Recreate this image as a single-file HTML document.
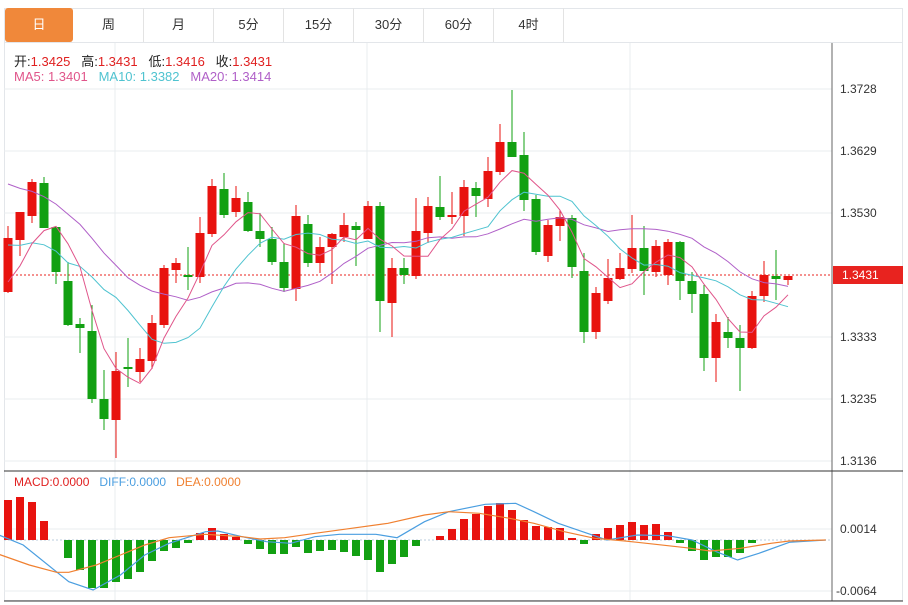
<!DOCTYPE html><html><head><meta charset="utf-8"><style>
body{margin:0;background:#fff;width:908px;height:605px;overflow:hidden;font-family:"Liberation Sans","Noto Sans CJK SC",sans-serif}
.tabs{position:absolute;left:4px;top:8px;height:34px;}
.tab{position:absolute;top:0;height:34px;width:70px;line-height:34px;text-align:center;font-size:13px;color:#333;border-right:1px solid #e3e3e3;box-sizing:border-box}
.leg{position:absolute;font-size:13px;white-space:pre}
</style></head><body>
<div style="position:absolute;left:4px;top:8px;width:899px;height:593px;border:1px solid #e3e6ea;box-sizing:border-box"></div>
<div class="tabs">
<div class="tab" style="left:1px;width:68px;background:#f0883a;color:#fff;border-radius:3px;border:none">日</div>
<div class="tab" style="left:70px">周</div><div class="tab" style="left:140px">月</div><div class="tab" style="left:210px">5分</div><div class="tab" style="left:280px">15分</div><div class="tab" style="left:350px">30分</div><div class="tab" style="left:420px">60分</div><div class="tab" style="left:490px">4时</div>
</div>
<div style="position:absolute;left:4px;top:42px;width:899px;border-top:1px solid #e3e6ea"></div>
<svg id="s" width="908" height="605" style="position:absolute;left:0;top:0"></svg>
<div class="leg" style="left:14px;top:51px;color:#222">开:<span style="color:#e02020">1.3425</span>   高:<span style="color:#e02020">1.3431</span>   低:<span style="color:#e02020">1.3416</span>   收:<span style="color:#e02020">1.3431</span></div>
<div class="leg" style="left:14px;top:69px"><span style="color:#e0558a">MA5: 1.3401</span>   <span style="color:#4fc3d0">MA10: 1.3382</span>   <span style="color:#b060c8">MA20: 1.3414</span></div>
<div class="leg" style="left:14px;top:475px;font-size:12px"><span style="color:#e02020">MACD:0.0000</span>   <span style="color:#4a9ee0">DIFF:0.0000</span>   <span style="color:#f08030">DEA:0.0000</span></div>
<div class="leg" style="left:840px;top:82px;color:#333;font-size:12px">1.3728</div>
<div class="leg" style="left:840px;top:144px;color:#333;font-size:12px">1.3629</div>
<div class="leg" style="left:840px;top:206px;color:#333;font-size:12px">1.3530</div>
<div class="leg" style="left:840px;top:330px;color:#333;font-size:12px">1.3333</div>
<div class="leg" style="left:840px;top:392px;color:#333;font-size:12px">1.3235</div>
<div class="leg" style="left:840px;top:454px;color:#333;font-size:12px">1.3136</div>
<div style="position:absolute;left:833px;top:266px;width:70px;height:18px;background:#e8231f"></div>
<div class="leg" style="left:842px;top:268px;color:#fff;font-size:12px">1.3431</div>
<div class="leg" style="left:840px;top:522px;color:#333;font-size:12px">0.0014</div>
<div class="leg" style="left:836px;top:584px;color:#333;font-size:12px">-0.0064</div>
<script>
var C=[[238,292,226,293,1],[212,240,212,256,1],[182,216,179,223,1],[183,228,177,228,0],[227,272,226,284,0],[281,325,262,326,0],[324,328,318,353,0],[331,399,305,403,0],[399,419,370,430,0],[371,420,352,458,1],[367,369,338,387,0],[359,372,348,382,1],[323,361,315,369,1],[268,325,265,328,1],[263,270,258,283,1],[275,277,247,290,0],[233,277,217,283,1],[186,234,179,237,1],[189,215,173,218,0],[198,212,186,217,1],[202,231,192,232,0],[231,239,213,247,0],[239,262,227,265,0],[262,288,243,292,0],[216,289,205,301,1],[224,263,215,267,0],[247,263,237,273,1],[234,247,233,284,1],[225,237,213,242,1],[226,230,222,266,0],[206,239,201,239,1],[206,301,202,332,0],[268,303,258,337,1],[268,275,258,284,0],[231,276,198,279,1],[206,233,197,243,1],[207,217,176,220,0],[215,217,192,224,1],[187,216,180,236,1],[188,196,182,217,0],[171,199,157,207,1],[142,172,124,175,1],[142,157,90,157,0],[155,200,132,211,0],[199,252,195,255,0],[225,256,220,262,1],[217,226,210,241,1],[218,267,215,278,0],[271,332,253,343,0],[293,332,287,339,1],[278,301,259,304,1],[268,279,253,280,1],[248,269,215,273,1],[248,271,226,295,0],[246,272,240,277,1],[242,275,239,285,1],[242,281,241,300,0],[281,294,272,313,0],[294,358,285,371,0],[322,358,314,382,1],[332,338,317,348,0],[338,348,325,391,0],[296,348,291,349,1],[275,296,261,302,1],[276,279,250,300,0],[276,280,276,285,1]];
var M=[500,497,502,521,540,558,570,588,588,582,579,572,561,551,548,543,533,528,534,537,544,549,554,554,547,553,551,550,552,556,560,572,564,557,546,540,536,529,519,514,506,503,510,520,526,527,528,538,544,534,528,525,522,525,524,532,543,551,560,557,557,553,543,540,540,540];
var s='',X=function(i){return 8+i*12};
[89,151,213,337,399,461].forEach(function(y){s+='<line x1="4" x2="832" y1="'+y+'" y2="'+y+'" stroke="#e8ecef"/>'});
[115,367,630].forEach(function(x){s+='<line x1="'+x+'" x2="'+x+'" y1="43" y2="600" stroke="#e8ecef"/>'});
s+='<line x1="4" x2="832" y1="529" y2="529" stroke="#e8ecef"/><line x1="4" x2="832" y1="591" y2="591" stroke="#e8ecef"/>';
s+='<line x1="832" x2="832" y1="43" y2="601" stroke="#666"/><line x1="4" x2="903" y1="471" y2="471" stroke="#333"/><line x1="4" x2="903" y1="601" y2="601" stroke="#333"/>';
s+='<line x1="4" x2="832" y1="275" y2="275" stroke="#e8231f" stroke-dasharray="2,2"/>';
s+='<line x1="4" x2="832" y1="540" y2="540" stroke="#bcd" stroke-dasharray="2,2"/>';
C.forEach(function(c,i){var col=c[4]?'#e8130f':'#12a012',x=X(i);s+='<line x1="'+x+'" x2="'+x+'" y1="'+c[2]+'" y2="'+c[3]+'" stroke="'+col+'"/><rect x="'+(x-4.5)+'" y="'+c[0]+'" width="9" height="'+Math.max(2,c[1]-c[0])+'" fill="'+col+'"/>'});
var cl=C.map(function(c){return c[4]?c[0]:c[1]});
var pad=[];for(var k=0;k<10;k++)pad.push(123);for(k=0;k<5;k++)pad.push(208);for(k=0;k<4;k++)pad.push(293);
var all=pad.concat(cl);
function ma(n,col){var p=[];for(var i=0;i<cl.length;i++){var j=i+19,t=0;for(var k=0;k<n;k++)t+=all[j-k];p.push(X(i)+','+(t/n).toFixed(1))}s+='<polyline points="'+p.join(' ')+'" fill="none" stroke="'+col+'" stroke-width="1"/>'}
ma(20,'#b060c8');ma(10,'#4fc3d0');ma(5,'#e0558a');
M.forEach(function(y,i){var x=X(i);if(Math.abs(y-540)<1)return;var col=y<540?'#e8130f':'#12a012';s+='<rect x="'+(x-4)+'" y="'+Math.min(y,540)+'" width="8" height="'+Math.abs(y-540)+'" fill="'+col+'"/>'});
function ln(a,col){var p=[];for(var i=0;i<a.length;i+=2)p.push((8+(a[i]-15)*0.608).toFixed(1)+','+(465+a[i+1]/3).toFixed(1));s+='<polyline points="'+p.join(' ')+'" fill="none" stroke="'+col+'" stroke-width="1.2"/>'}
ln([0,210,40,240,115,350,155,375,200,330,240,270,280,235,340,200,360,198,400,215,440,230,480,235,520,215,560,208,620,208,655,218,700,170,740,140,800,118,850,115,880,140,920,175,960,200,1000,225,1050,210,1100,212,1140,225,1180,260,1215,285,1250,265,1300,232,1360,225],'#4a9ee0');
ln([0,268,50,300,95,322,115,322,160,300,200,270,240,240,280,218,340,208,400,215,430,222,470,218,520,205,580,190,640,175,700,150,740,140,790,145,840,160,880,175,930,200,980,220,1030,228,1080,238,1130,248,1170,258,1220,250,1270,235,1300,228,1360,225],'#f08030');
document.getElementById('s').innerHTML=s;
</script>
</body></html>
